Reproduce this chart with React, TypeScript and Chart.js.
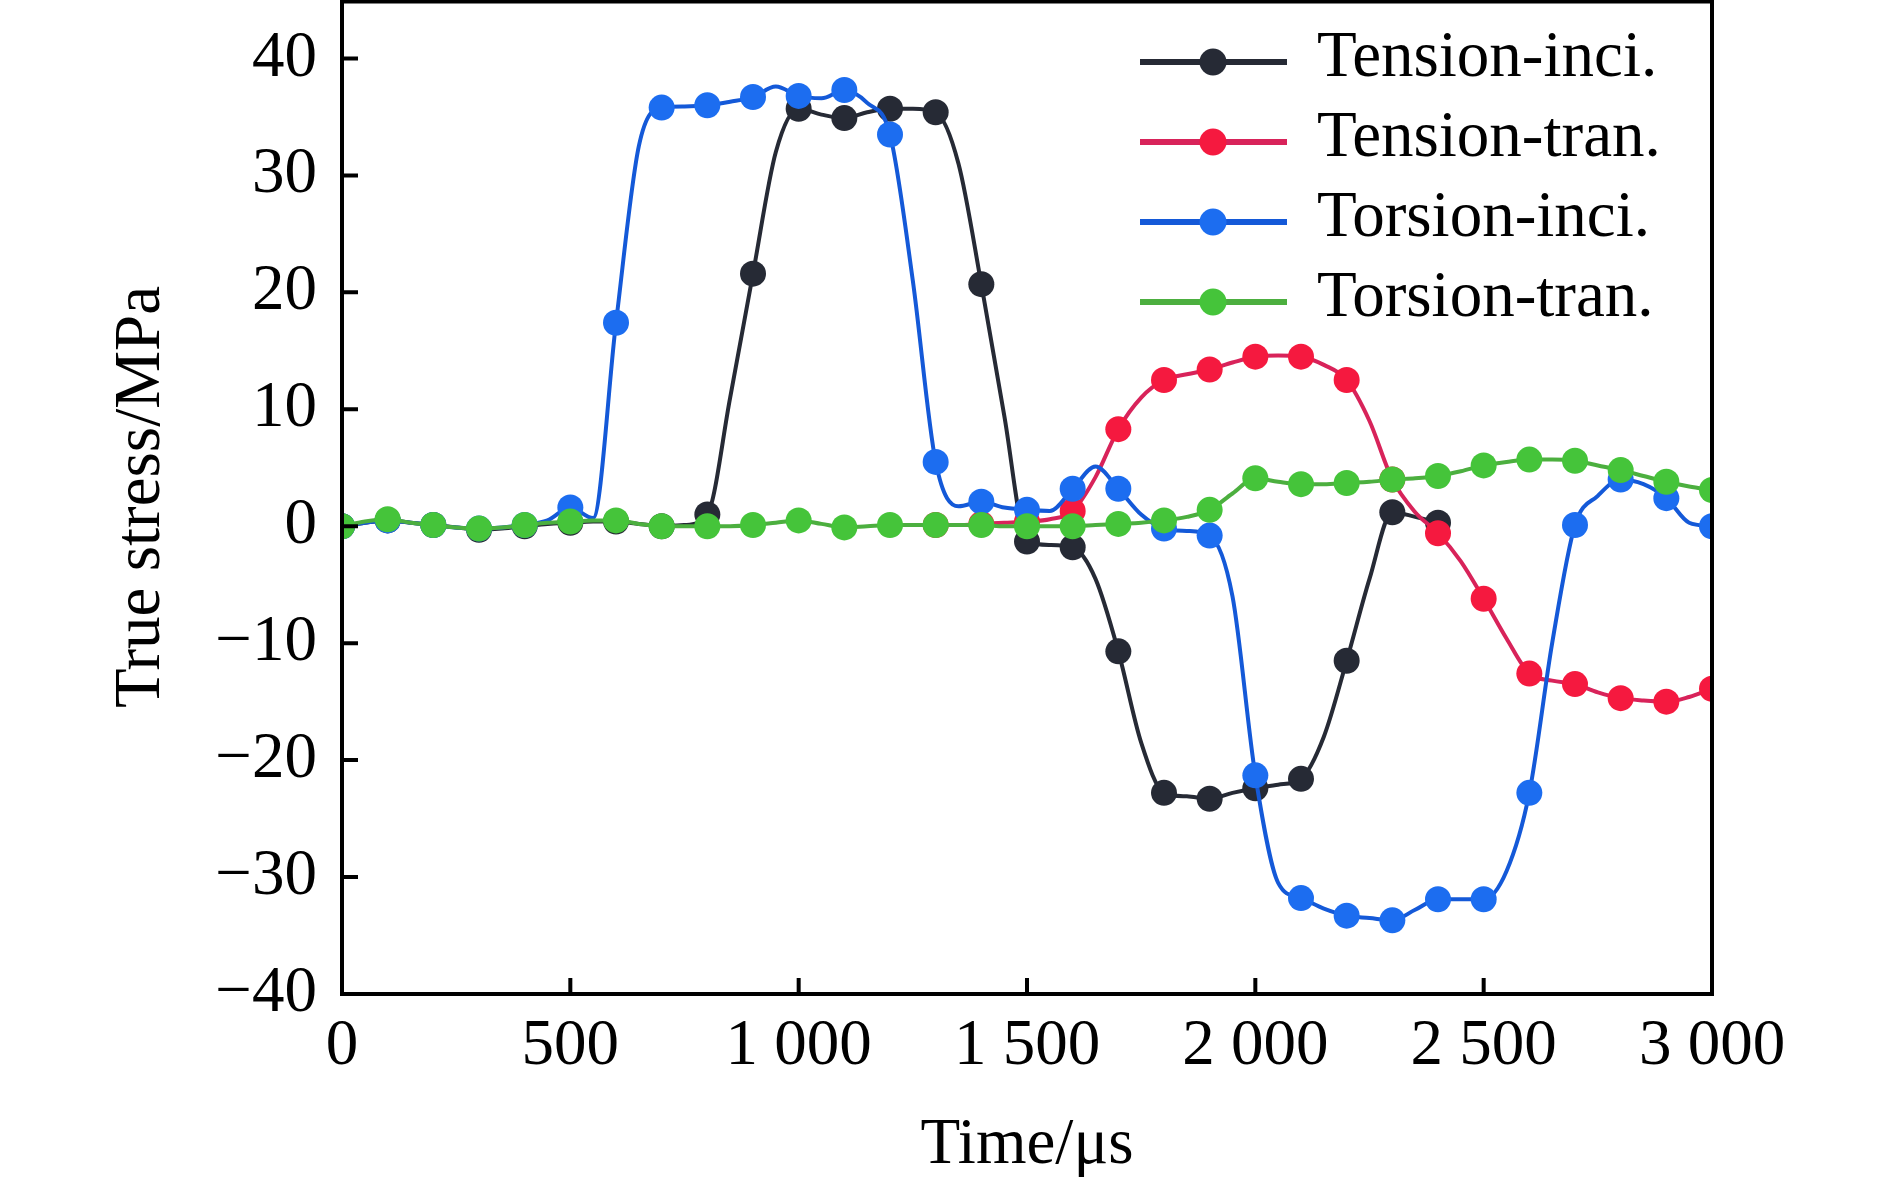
import { useEffect, useRef } from 'react'
import Chart from 'chart.js/auto'

// time axis, read every 50 µs (markers sit on the 100 µs points)
const timeUs = [
  0, 50, 100, 150, 200, 250, 300, 350, 400, 450,
  500, 550, 600, 650, 700, 750, 800, 850, 900, 950,
  1000, 1050, 1100, 1150, 1200, 1250, 1300, 1350, 1400, 1450,
  1500, 1550, 1600, 1650, 1700, 1750, 1800, 1850, 1900, 1950,
  2000, 2050, 2100, 2150, 2200, 2250, 2300, 2350, 2400, 2450,
  2500, 2550, 2600, 2650, 2700, 2750, 2800, 2850, 2900, 2950,
  3000
]

const tensionInci = [
  0, 0.3, 0.5, 0.3, 0.1, -0.1, -0.3, -0.2, 0, 0.2,
  0.3, 0.4, 0.4, 0.2, 0, 0.1, 1.0, 11, 21.6, 32,
  35.7, 35.2, 34.9, 35.4, 35.7, 35.7, 35.4, 31, 20.7, 9.5,
  -1.3, -1.6, -1.8, -4.5, -10.7, -18.5, -22.8, -23.1, -23.3, -22.8,
  -22.4, -22.1, -21.6, -18, -11.5, -4.5, 1.2, 0.8, 0.3, null,
  null, null, null, null, null, null, null, null, null, null,
  null
]

const tensionTran = [
  null, null, null, null, null, null, null, null, null, null,
  null, null, null, null, null, null, null, null, null, null,
  null, null, null, null, null, null, 0.1, 0.1, 0.2, 0.3,
  0.4, 0.6, 1.3, 4.2, 8.3, 11, 12.5, 13.0, 13.4, 14.0,
  14.5, 14.6, 14.5, 13.8, 12.5, 9, 4.0, 1.2, -0.6, -3.0,
  -6.2, -9.6, -12.6, -13.2, -13.5, -14.2, -14.7, -14.9, -15.0, -14.6,
  -13.9
]

const torsionInci = [
  0, 0.3, 0.5, 0.3, 0.1, -0.1, -0.2, -0.1, 0.1, 0.5,
  1.6, 0.7, 17.4, 32.5, 35.8, 35.9, 36, 36.3, 36.7, 37.6,
  36.8, 36.6, 37.3, 36.2, 33.5, 21, 5.5, 1.7, 2.1, 1.6,
  1.4, 1.3, 3.2, 5.1, 3.2, 1.0, -0.2, -0.4, -0.8, -6,
  -21.3, -30.5, -31.8, -32.7, -33.3, -33.5, -33.7, -32.8, -31.9, -31.9,
  -31.9, -29.5, -22.8, -10, 0.1, 2.6, 4.0, 3.6, 2.4, 0.3,
  0
]

const torsionTran = [
  0, 0.4, 0.6, 0.3, 0.1, -0.1, -0.2, -0.1, 0.1, 0.3,
  0.4, 0.5, 0.5, 0.2, 0, 0, 0, 0, 0.1, 0.3,
  0.5, 0.2, -0.1, 0, 0.1, 0.1, 0.1, 0.1, 0.1, 0,
  0, 0, 0, 0.1, 0.2, 0.3, 0.5, 0.8, 1.4, 2.8,
  4.1, 3.8, 3.6, 3.6, 3.7, 3.8, 4.0, 4.1, 4.3, 4.7,
  5.2, 5.5, 5.7, 5.7, 5.6, 5.2, 4.8, 4.3, 3.8, 3.4,
  3.1
]

const xTickValues = [0, 500, 1000, 1500, 2000, 2500, 3000]
const yTickValues = [-40, -30, -20, -10, 0, 10, 20, 30, 40]

const seriesNames = ['Tension-inci.', 'Tension-tran.', 'Torsion-inci.', 'Torsion-tran.']
const lineColors = ['#262a35', '#d8235a', '#1459d8', '#4caf3f']
const markerColors = ['#262a35', '#f5193f', '#1c6df0', '#45c43a']
const drawOrder = [3, 2, 1, 0]

const FONT = '"Liberation Serif", "Times New Roman", serif'

const toPoints = (vals: (number | null)[]) => vals.map((v, i) => ({ x: timeUs[i], y: v }))

const fmtX = (v: number) =>
  v >= 1000 ? `${Math.floor(v / 1000)} ${String(v % 1000).padStart(3, '0')}` : String(v)
const fmtY = (v: number) => (v < 0 ? '\u2212' + Math.abs(v) : String(v))

// frame + inward tick marks
const framePlugin = {
  id: 'frame',
  afterDatasetsDraw(chart: any) {
    const { ctx, chartArea: a, scales } = chart
    ctx.save()
    ctx.strokeStyle = '#000'
    ctx.lineWidth = 4
    ctx.beginPath()
    for (const t of scales.y.ticks) {
      if (t.value <= -40) continue
      const y = scales.y.getPixelForValue(t.value)
      ctx.moveTo(a.left, y)
      ctx.lineTo(a.left + 16, y)
    }
    for (const t of scales.x.ticks) {
      if (t.value <= 0 || t.value >= 3000) continue
      const x = scales.x.getPixelForValue(t.value)
      ctx.moveTo(x, a.bottom)
      ctx.lineTo(x, a.bottom - 16)
    }
    ctx.stroke()
    ctx.strokeRect(a.left, a.top + 1.5, a.right - a.left, a.bottom - a.top - 1.5)
    ctx.restore()
  }
}

const legendPlugin = {
  id: 'insideLegend',
  afterDraw(chart: any) {
    const { ctx, chartArea: a } = chart
    ctx.save()
    ctx.font = `65px ${FONT}`
    ctx.textBaseline = 'middle'
    ctx.textAlign = 'left'
    chart.data.datasets.forEach((ds: any, i: number) => {
      const ty = a.top + 59 + i * 80
      const ly = ty + 3
      ctx.strokeStyle = ds.borderColor
      ctx.lineWidth = 6
      ctx.beginPath()
      ctx.moveTo(a.right - 572, ly)
      ctx.lineTo(a.right - 425, ly)
      ctx.stroke()
      ctx.fillStyle = ds.pointBackgroundColor
      ctx.beginPath()
      ctx.arc(a.right - 499, ly, 13.5, 0, Math.PI * 2)
      ctx.fill()
      ctx.fillStyle = '#000'
      ctx.fillText(ds.label, a.right - 395, ty)
    })
    ctx.restore()
  }
}

export default function App() {
  const canvasRef = useRef<HTMLCanvasElement | null>(null)
  const chartRef = useRef<Chart | null>(null)

  useEffect(() => {
    if (chartRef.current) chartRef.current.destroy()
    const ctx = canvasRef.current?.getContext('2d')
    if (!ctx) return

    const values = [tensionInci, tensionTran, torsionInci, torsionTran]

    chartRef.current = new Chart(ctx, {
      type: 'line',
      data: {
        datasets: values.map((vals, i) => ({
          label: seriesNames[i],
          data: toPoints(vals),
          borderColor: lineColors[i],
          backgroundColor: markerColors[i],
          pointBackgroundColor: markerColors[i],
          pointBorderWidth: 0,
          pointRadius: (c: any) => (timeUs[c.dataIndex] % 100 === 0 ? 13 : 0),
          borderWidth: 4,
          cubicInterpolationMode: 'monotone' as const,
          fill: false,
          clip: 0,
          order: drawOrder[i]
        }))
      },
      options: {
        animation: false,
        responsive: true,
        maintainAspectRatio: false,
        events: [],
        layout: { autoPadding: false, padding: { left: 100, right: 178, top: 0, bottom: 0 } },
        plugins: {
          legend: { display: false },
          tooltip: { enabled: false }
        },
        scales: {
          x: {
            type: 'linear',
            min: 0,
            max: 3000,
            grid: { display: false, drawTicks: false },
            border: { display: false },
            ticks: {
              autoSkip: false,
              maxRotation: 0,
              padding: 14,
              color: '#000',
              font: { family: FONT, size: 65 },
              callback: (v: any) => fmtX(Number(v))
            },
            afterBuildTicks: (s: any) => {
              s.ticks = xTickValues.map((value) => ({ value }))
            },
            title: {
              display: true,
              text: 'Time/μs',
              color: '#000',
              padding: { top: 0, bottom: 0 },
              font: { family: FONT, size: 65 }
            },
            afterFit: (s: any) => {
              s.height = 191
              s.paddingRight = 0
            }
          },
          y: {
            min: -40,
            max: 45,
            grid: { display: false, drawTicks: false },
            border: { display: false },
            ticks: {
              padding: 25,
              color: '#000',
              font: { family: FONT, size: 65 },
              callback: (v: any) => fmtY(Number(v))
            },
            afterBuildTicks: (s: any) => {
              s.ticks = yTickValues.map((value) => ({ value }))
            },
            title: {
              display: true,
              text: 'True stress/MPa',
              color: '#000',
              padding: { top: 3, bottom: 0 },
              font: { family: FONT, size: 65 }
            },
            afterFit: (s: any) => {
              s.width = 242
              s.paddingTop = 0
              s.paddingBottom = 0
            }
          }
        }
      },
      plugins: [framePlugin, legendPlugin]
    })

    return () => {
      if (chartRef.current) {
        chartRef.current.destroy()
        chartRef.current = null
      }
    }
  }, [])

  return (
    <div style={{ width: 1890, height: 1185, position: 'relative', background: '#fff' }}>
      <style>{'body{margin:0}'}</style>
      <canvas ref={canvasRef}></canvas>
    </div>
  )
}
